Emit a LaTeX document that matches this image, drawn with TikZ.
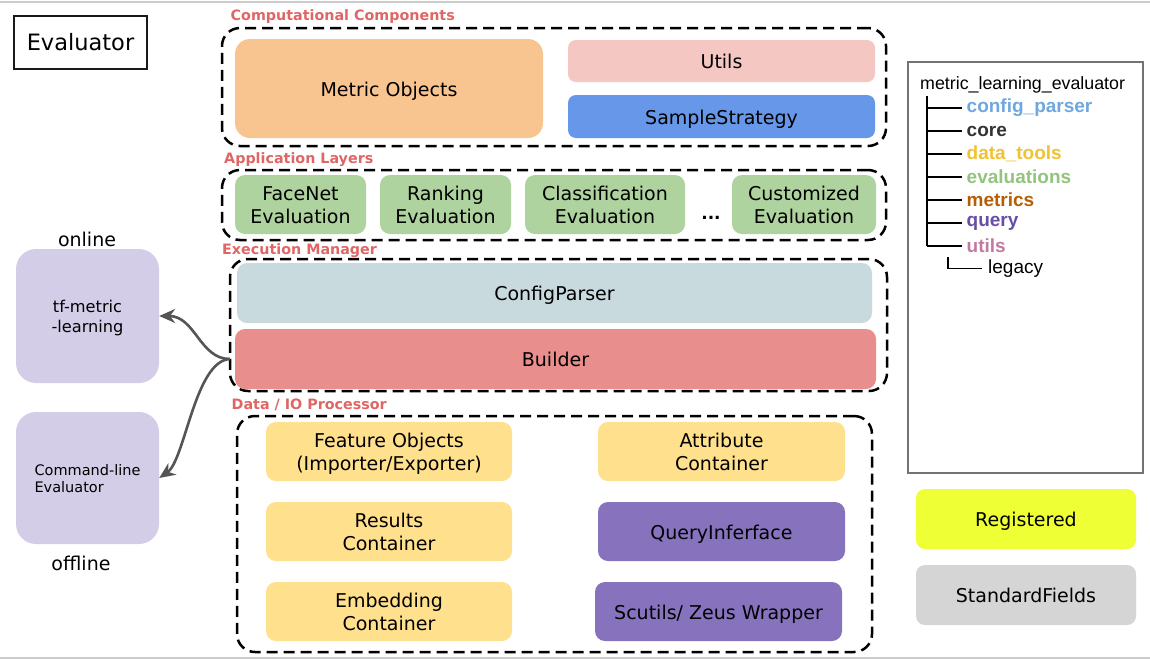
\documentclass[tikz,border=0pt]{standalone}
\usepackage{fontspec}
\setmainfont{DejaVu Sans}
\newfontfamily\arialf{Liberation Sans}
\usetikzlibrary{arrows.meta}
\newcommand\mytop{\rule{0pt}{1.08em}}
\newcommand\mybot{\rule[-0.26em]{0pt}{0.26em}}
\definecolor{secred}{HTML}{E06666}
\definecolor{cmetric}{HTML}{F8C591}
\definecolor{cutils}{HTML}{F4C7C3}
\definecolor{csample}{HTML}{6797E8}
\definecolor{cgreen}{HTML}{AED39F}
\definecolor{cconfig}{HTML}{C9DADE}
\definecolor{cbuilder}{HTML}{E88E8C}
\definecolor{cyellow}{HTML}{FFE08D}
\definecolor{cpurple}{HTML}{8672BD}
\definecolor{clav}{HTML}{D4CDE8}
\definecolor{creg}{HTML}{EEFF36}
\definecolor{cstd}{HTML}{D5D5D5}
\definecolor{tcfg}{HTML}{6FA8DC}
\definecolor{tcore}{HTML}{333333}
\definecolor{tdata}{HTML}{F1C232}
\definecolor{teval}{HTML}{93C47D}
\definecolor{tmet}{HTML}{B45F06}
\definecolor{tquery}{HTML}{674EA7}
\definecolor{tutils}{HTML}{C27BA0}
\definecolor{carrow}{HTML}{555555}
\tikzset{
  blk/.style={draw=none, rounded corners=10pt, align=center, inner sep=0pt,
    font=\fontsize{19}{23}\selectfont},
  container/.style={draw=black, line width=2.5pt, dash pattern=on 11pt off 6pt,
    rounded corners=18pt, inner sep=0pt},
  seclabel/.style={anchor=west, inner sep=0pt, text=secred,
    font=\bfseries\fontsize{14.3}{16}\selectfont},
  treeline/.style={line width=1.8pt, black},
  treelabel/.style={anchor=west, inner sep=0pt, font=\arialf\bfseries\fontsize{19}{22}\selectfont},
  conn/.style={draw=carrow, line width=2.6pt, -{Stealth[length=16pt,width=14pt]}},
}
\begin{document}
\begin{tikzpicture}[x=1pt,y=-1pt]
\useasboundingbox (0,0) rectangle (1150,659);
\fill[white] (0,0) rectangle (1150,659);
\draw[line width=2pt, color=black!20] (0,1.5) -- (1150,1.5);
\draw[line width=2pt, color=black!20] (0,658) -- (1150,658);

% Evaluator title
\node[draw=black!90, line width=2pt, minimum width=133pt, minimum height=53pt, inner sep=0pt,
  font=\fontsize{22.5}{26}\selectfont] (title) at (80.5,42.5) {Evaluator};

% Computational Components
\node[seclabel] (lcc) at (230.5,17) {Computational Components};
\node[container, minimum width=664pt, minimum height=118pt] (cc) at (554,87) {};
\node[blk, rounded corners=15pt, fill=cmetric, minimum width=308pt, minimum height=99pt] (metric) at (389,88.5) {\mytop Metric Objects\mybot};
\node[blk, rounded corners=8pt, fill=cutils, minimum width=307pt, minimum height=42pt] (utils) at (721.5,61) {\mytop Utils\mybot};
\node[blk, rounded corners=8pt, fill=csample, minimum width=307pt, minimum height=43pt] (sample) at (721.5,116.5) {\mytop SampleStrategy\mybot};

% Application Layers
\node[seclabel] (lal) at (224,160) {Application Layers};
\node[container, minimum width=664pt, minimum height=70pt] (al) at (554,205) {};
\node[blk, fill=cgreen, minimum width=131pt, minimum height=59pt] (facenet) at (300.5,204.5) {\mytop FaceNet\\Evaluation\mybot};
\node[blk, fill=cgreen, minimum width=131pt, minimum height=59pt] (ranking) at (445.5,204.5) {\mytop Ranking\\Evaluation\mybot};
\node[blk, fill=cgreen, minimum width=160pt, minimum height=59pt] (classif) at (605,204.5) {\mytop Classification\\Evaluation\mybot};
\node[inner sep=0pt, font=\bfseries\fontsize{17}{20}\selectfont] (dots) at (711,218) {...};
\node[blk, fill=cgreen, minimum width=144pt, minimum height=59pt] (custom) at (804,204.5) {\mytop Customized\\Evaluation\mybot};

% Execution Manager
\node[seclabel] (lem) at (222,251) {Execution Manager};
\node[container, minimum width=657pt, minimum height=132pt] (em) at (558.5,325) {};
\node[blk, fill=cconfig, minimum width=635pt, minimum height=60pt] (config) at (554.5,293) {\mytop ConfigParser\mybot};
\node[blk, fill=cbuilder, minimum width=641pt, minimum height=60pt] (bld) at (555.5,359) {\mytop Builder\mybot};

% Data / IO Processor
\node[seclabel] (ldio) at (231.5,405) {Data / IO Processor};
\node[container, minimum width=635pt, minimum height=236pt] (dio) at (554.5,534) {};
\node[blk, fill=cyellow, minimum width=246pt, minimum height=59pt] (feature) at (389,451.5) {\mytop Feature Objects\\(Importer/Exporter)\mybot};
\node[blk, fill=cyellow, minimum width=247pt, minimum height=59pt] (attr) at (721.5,451.5) {\mytop Attribute\\Container\mybot};
\node[blk, fill=cyellow, minimum width=246pt, minimum height=59pt] (results) at (389,531.5) {\mytop Results\\Container\mybot};
\node[blk, fill=cpurple, minimum width=247pt, minimum height=59pt] (query) at (721.5,531.5) {\mytop QueryInferface\mybot};
\node[blk, fill=cyellow, minimum width=246pt, minimum height=59pt] (embed) at (389,611.5) {\mytop Embedding\\Container\mybot};
\node[blk, fill=cpurple, minimum width=247pt, minimum height=59pt] (scutils) at (718.5,611.5) {\mytop Scutils/ Zeus Wrapper\mybot};

% Left side
\node[inner sep=0pt, font=\fontsize{19}{22}\selectfont] (online) at (87,239) {online};
\node[blk, rounded corners=20pt, fill=clav, minimum width=143pt, minimum height=134pt,
  font=\fontsize{16.2}{20}\selectfont] (tf) at (87.5,316) {\mytop tf-metric\\-learning\mybot};
\node[blk, rounded corners=20pt, fill=clav, minimum width=143pt, minimum height=132pt,
  align=left, font=\fontsize{14.5}{17}\selectfont] (cmd) at (87.5,478) {\mytop Command-line\\Evaluator\mybot};
\node[inner sep=0pt, font=\fontsize{19}{22}\selectfont] (offline) at (81,563) {offline};

\draw[conn] ([xshift=-5pt]bld.west) .. controls +(-30,0) and +(36,0) .. (tf.east);
\draw[conn] ([xshift=-5pt]bld.west) .. controls +(-35,2) and +(26,-18) .. (cmd.east);

% Package tree
\node[draw=black!55, line width=2pt, minimum width=235pt, minimum height=411pt, inner sep=0pt] (tree) at (1025.5,267.5) {};
\node[anchor=west, inner sep=0pt, font=\arialf\fontsize{17.8}{21}\selectfont] (root) at (920,85) {metric\_learning\_evaluator};
\coordinate (trtop) at (927,96);
\coordinate (trbot) at (927,246);
\draw[treeline] (trtop) -- (trbot);
\node[treelabel, text=tcfg] (t1) at (966.5,108) {config\_parser};
\node[treelabel, text=tcore] (t2) at (966.5,131) {core};
\node[treelabel, text=tdata] (t3) at (966.5,154) {data\_tools};
\node[treelabel, text=teval] (t4) at (966.5,177) {evaluations};
\node[treelabel, text=tmet] (t5) at (966.5,200) {metrics};
\node[treelabel, text=tquery] (t6) at (966.5,223) {query};
\node[treelabel, text=tutils] (t7) at (966.5,246) {utils};
\foreach \n in {t1,t2,t3,t4,t5,t6,t7}{
  \draw[treeline] (trtop |- \n.west) -- ([xshift=-4.5pt]\n.west);
}
\node[anchor=west, inner sep=0pt, font=\arialf\fontsize{19}{22}\selectfont] (legacy) at (988,268.5) {legacy};
\coordinate (lgtop) at (948,257);
\draw[line width=1.5pt] (lgtop) |- ([xshift=-6pt]legacy.west);

% Legend
\node[blk, rounded corners=9pt, fill=creg, minimum width=220pt, minimum height=60pt] (reg) at (1026,519) {\mytop Registered\mybot};
\node[blk, rounded corners=9pt, fill=cstd, minimum width=220pt, minimum height=60pt] (std) at (1026,595) {\mytop StandardFields\mybot};
\end{tikzpicture}
\end{document}
